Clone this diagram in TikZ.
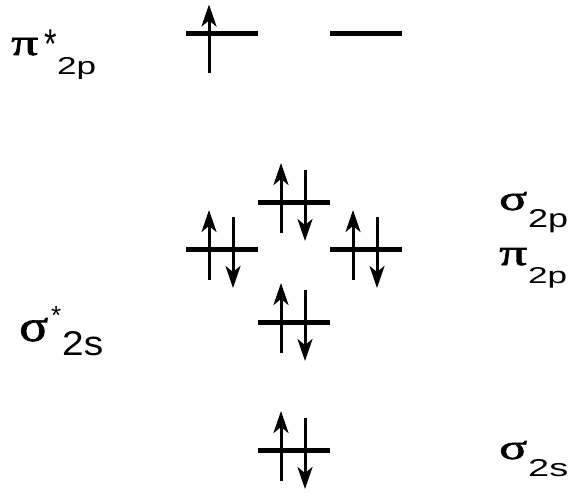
\documentclass[tikz,border=0pt]{standalone}
\usepackage{fontspec}
\newfontfamily\gk[FakeBold=1.5]{Liberation Serif}
\newfontfamily\sub{Liberation Sans}
\usetikzlibrary{arrows.meta}
\tikzset{
  level/.style={line width=5pt},
  spin/.style={line width=3pt, -{Stealth[length=22pt,width=15pt,inset=6pt]}},
  lbl/.style={inner sep=0pt, anchor=base west},
}
\newcommand\gkl[3]{\resizebox{#1pt}{#2pt}{\gk #3}}
\newcommand\subl[3]{\resizebox{#1pt}{#2pt}{\sub #3}}
\begin{document}
\begin{tikzpicture}[x=1pt,y=-1pt]
\useasboundingbox (0,0) rectangle (580,492);
% level positions (left end)
\coordinate (pisA) at (186,33.5);
\coordinate (pisB) at (330,33.5);
\coordinate (sig2p) at (258,202);
\coordinate (pi2pA) at (186,249);
\coordinate (pi2pB) at (330,249);
\coordinate (sigs2s) at (258,322);
\coordinate (sig2s) at (258,450);
\foreach \c in {pisA,pisB,sig2p,pi2pA,pi2pB,sigs2s,sig2s}
  \draw[level] (\c) -- ++(72,0);
% single electron in pi*
\draw[spin] (pisA) ++(23,40) -- ++(0,-69);
% paired electrons
\foreach \c in {sig2p,pi2pA,pi2pB,sigs2s,sig2s}{
  \draw[spin] (\c) ++(23,31) -- ++(0,-70);
  \draw[spin] (\c) ++(47,-32) -- ++(0,71);
}
% labels
\node[lbl] (pisG) at (11,55) {\gkl{27}{17}{π}};
\node[lbl] (pisS) at (44,59) {\scalebox{1}[1.3]{\fontsize{32pt}{32pt}\selectfont\sub *}};
\node[lbl] (pisT) at (57,75) {\subl{39}{17}{2p}};

\node[lbl] (s2pG) at (499,210) {\gkl{28}{18}{σ}};
\node[lbl] (s2pT) at (528,227) {\subl{40}{18}{2p}};

\node[lbl] (p2pG) at (499,265) {\gkl{28}{17}{π}};
\node[lbl] (p2pT) at (528,283) {\subl{39}{16}{2p}};

\node[lbl] (ss2sG) at (19,341) {\gkl{29}{23}{σ}};
\node[lbl] (ss2sS) at (51,324) {\fontsize{26pt}{26pt}\selectfont\sub *};
\node[lbl] (ss2sT) at (62,355) {\subl{41}{24}{2s}};

\node[lbl] (s2sG) at (499,459) {\gkl{28}{18}{σ}};
\node[lbl] (s2sT) at (528,476) {\subl{40}{17}{2s}};
\end{tikzpicture}
\end{document}
